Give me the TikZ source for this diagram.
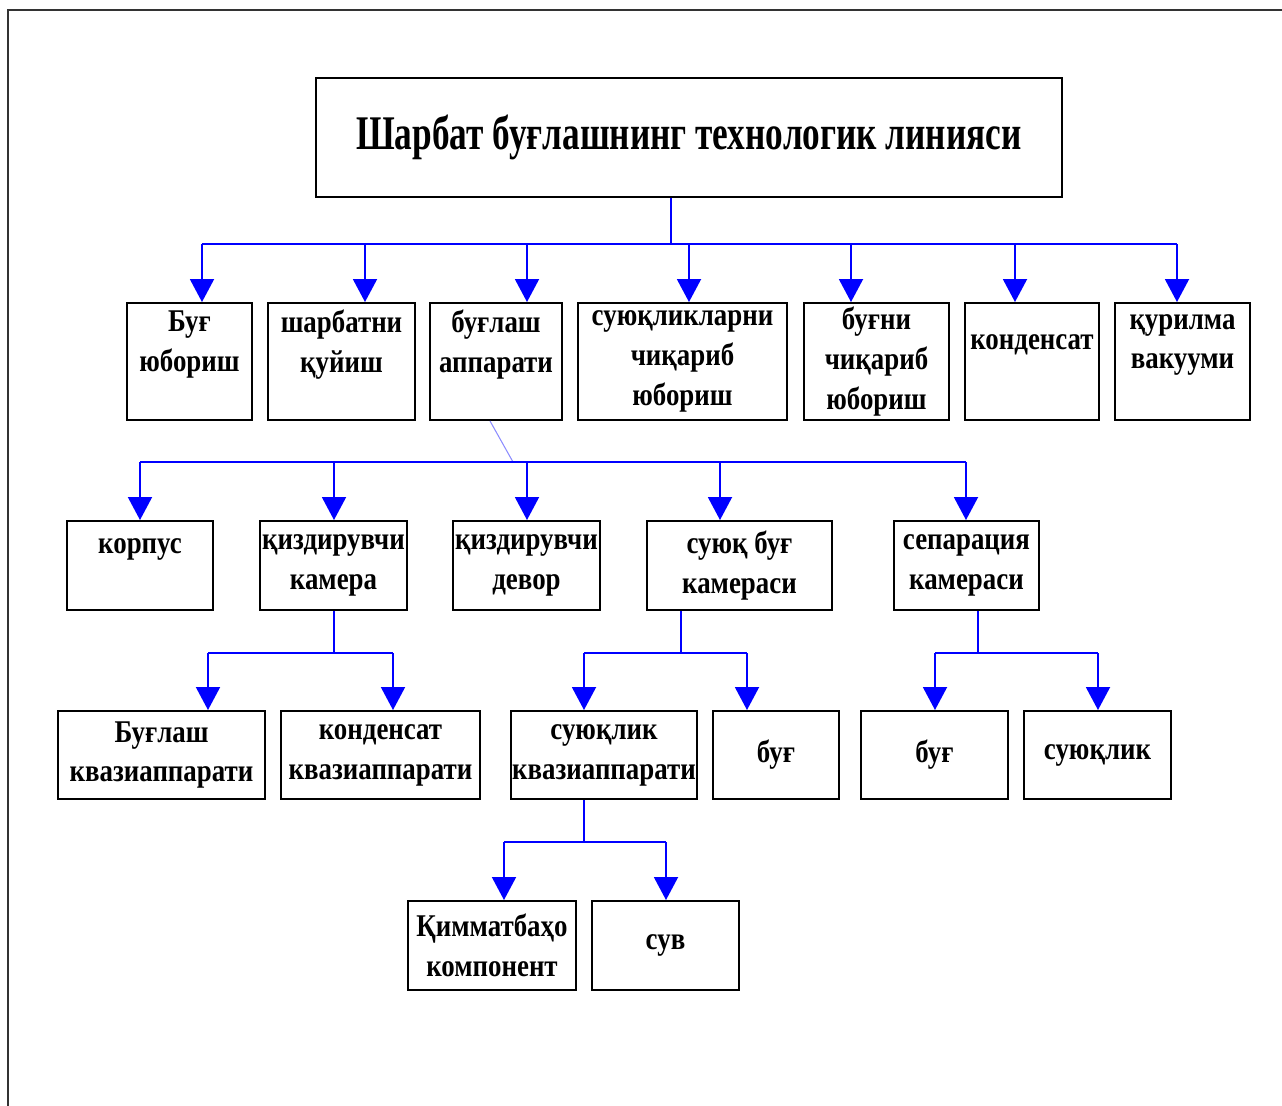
\documentclass[tikz,border=0pt]{standalone}
\usepackage{fontspec}
\newfontfamily\boxfont{Liberation Serif}[FakeStretch=0.85]
\newfontfamily\titlefont{Liberation Serif}[FakeStretch=0.73]
\usetikzlibrary{arrows.meta,positioning}

\begin{document}
\begin{tikzpicture}[
    x=0.02cm, y=-0.02cm,
    box/.style={rectangle, draw, line width=1.1pt, align=center, inner sep=0pt,
        font=\boxfont\bfseries\fontsize{18}{22.7}\selectfont},
    boxsize/.style 2 args={minimum width=#1*0.02cm, minimum height=#2*0.02cm},
    line/.style={draw=blue, line width=1.1pt},
    arrow/.style={line, -{Triangle[width=0.48cm,length=0.46cm]}, fill=blue},
    faint/.style={draw=blue!45, line width=0.6pt}
]
\useasboundingbox (0,0) rectangle (1282,1106);

% Frame
\draw[line width=1.1pt, black!80] (8,1106) -- (8,10) -- (1282,10);

% Title
\node[box, boxsize={746}{119}, font=\titlefont\bfseries\fontsize{27.5}{34}\selectfont] (title) at (689,137.5)
    {Шарбат буғлашнинг технологик линияси};

% Row 1
\node[box, boxsize={125}{117}] (steam) at (189.5,361.5) {Буғ\\юбориш\\ ~};
\node[box, boxsize={147}{117}] (pour) at (341.5,361.5) {шарбатни\\қуйиш\\ ~};
\node[box, boxsize={132}{117}] (apparatus) at (496,361.5) {буғлаш\\аппарати\\ ~};
\node[box, boxsize={209}{117}] (drainliq) at (682.5,361.5) {суюқликларни\\чиқариб\\юбориш};
\node[box, boxsize={145}{117}] (drainsteam) at (876.5,361.5) {буғни\\чиқариб\\юбориш};
\node[box, boxsize={134}{117}] (condensate) at (1032,361.5) {конденсат\\ ~};
\node[box, boxsize={135}{117}] (vacuum) at (1182.5,361.5) {қурилма\\вакууми\\ ~};

% Row 2
\node[box, boxsize={146}{89}] (body) at (140,565.5) {корпус\\ ~};
\node[box, boxsize={147}{89}] (heatcam) at (333.5,565.5) {қиздирувчи\\камера};
\node[box, boxsize={147}{89}] (heatwall) at (526.5,565.5) {қиздирувчи\\девор};
\node[box, boxsize={185}{89}] (vapcam) at (739.5,565.5) {суюқ буғ\\камераси};
\node[box, boxsize={145}{89}] (sepcam) at (966.5,565.5) {сепарация\\камераси};

% Row 3
\node[box, boxsize={207}{88}] (quasievap) at (161.5,755) {Буғлаш\\квазиаппарати};
\node[box, boxsize={199}{88}] (quasicond) at (380.5,755) {конденсат\\квазиаппарати};
\node[box, boxsize={186}{88}] (quasiliq) at (604,755) {суюқлик\\квазиаппарати};
\node[box, boxsize={126}{88}] (vapA) at (776,755) {буғ};
\node[box, boxsize={147}{88}] (vapB) at (934.5,755) {буғ};
\node[box, boxsize={147}{88}] (liqB) at (1097.5,755) {суюқлик};

% Row 4
\node[box, boxsize={168}{89}] (valuable) at (492,945.5) {Қимматбаҳо\\компонент};
\node[box, boxsize={147}{89}] (water) at (665.5,945.5) {сув};

% Junctions
\coordinate (a0) at (671,244);
\coordinate (a1) at (202,244);
\coordinate (a2) at (365,244);
\coordinate (a3) at (527,244);
\coordinate (a4) at (689,244);
\coordinate (a5) at (851,244);
\coordinate (a6) at (1015,244);
\coordinate (a7) at (1177,244);

\coordinate (b0) at (513,462);
\coordinate (b1) at (140,462);
\coordinate (b2) at (334,462);
\coordinate (b3) at (527,462);
\coordinate (b4) at (720,462);
\coordinate (b5) at (966,462);

\coordinate (c0) at (334,653);
\coordinate (c1) at (208,653);
\coordinate (c2) at (393,653);

\coordinate (d0) at (681,653);
\coordinate (d1) at (584,653);
\coordinate (d2) at (747,653);

\coordinate (e0) at (978,653);
\coordinate (e1) at (935,653);
\coordinate (e2) at (1098,653);

\coordinate (f0) at (584,842);
\coordinate (f1) at (504,842);
\coordinate (f2) at (666,842);

% Title to row 1
\draw[line] (title.south -| a0) -- (a0);
\draw[line] (a1) -- (a7);
\draw[arrow] (a1) -- (a1 |- steam.north);
\draw[arrow] (a2) -- (a2 |- pour.north);
\draw[arrow] (a3) -- (a3 |- apparatus.north);
\draw[arrow] (a4) -- (a4 |- drainliq.north);
\draw[arrow] (a5) -- (a5 |- drainsteam.north);
\draw[arrow] (a6) -- (a6 |- condensate.north);
\draw[arrow] (a7) -- (a7 |- vacuum.north);

% Apparatus parts
\draw[faint] ([xshift=-0.12cm]apparatus.south) -- (b0);
\draw[line] (b1) -- (b5);
\draw[arrow] (b1) -- (b1 |- body.north);
\draw[arrow] (b2) -- (b2 |- heatcam.north);
\draw[arrow] (b3) -- (b3 |- heatwall.north);
\draw[arrow] (b4) -- (b4 |- vapcam.north);
\draw[arrow] (b5) -- (b5 |- sepcam.north);

% Heating chamber
\draw[line] (heatcam.south -| c0) -- (c0);
\draw[line] (c1) -- (c2);
\draw[arrow] (c1) -- (c1 |- quasievap.north);
\draw[arrow] (c2) -- (c2 |- quasicond.north);

% Vapour chamber
\draw[line] (vapcam.south -| d0) -- (d0);
\draw[line] (d1) -- (d2);
\draw[arrow] (d1) -- (d1 |- quasiliq.north);
\draw[arrow] (d2) -- (d2 |- vapA.north);

% Separation chamber
\draw[line] (sepcam.south -| e0) -- (e0);
\draw[line] (e1) -- (e2);
\draw[arrow] (e1) -- (e1 |- vapB.north);
\draw[arrow] (e2) -- (e2 |- liqB.north);

% Liquid quasi-apparatus
\draw[line] (quasiliq.south -| f0) -- (f0);
\draw[line] (f1) -- (f2);
\draw[arrow] (f1) -- (f1 |- valuable.north);
\draw[arrow] (f2) -- (f2 |- water.north);

\end{tikzpicture}
\end{document}
